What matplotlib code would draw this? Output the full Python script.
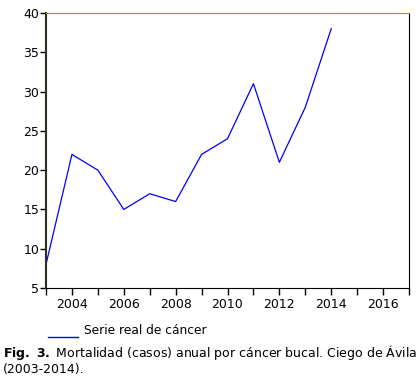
import matplotlib.pyplot as plt
import numpy as np

# Annual mortality from oral cancer, Ciego de Avila
years = [2003, 2004, 2005, 2006, 2007, 2008, 2009, 2010, 2011, 2012, 2013, 2014]
cases = [8, 22, 20, 15, 17, 16, 22, 24, 31, 21, 28, 38]
x_labels = [2004, 2006, 2008, 2010, 2012, 2014, 2016]
y_ticks = [5, 10, 15, 20, 25, 30, 35, 40]

fig = plt.figure(figsize=(4.2, 3.81), dpi=100)
ax = fig.add_axes([46 / 420, 1 - 288 / 381, 363 / 420, 275 / 381])

ax.plot(years, cases, color='#0000ff', linewidth=0.9)

ax.set_xlim(2003, 2017)
ax.set_ylim(5, 40)
ax.set_xticks(x_labels)
ax.set_xticks(range(2003, 2018, 2), minor=True)
ax.set_yticks(y_ticks)
ax.tick_params(axis='both', which='both', direction='out', labelsize=9, width=1)
ax.tick_params(axis='x', which='both', length=5, pad=2)
ax.tick_params(axis='y', length=4, pad=1)

ax.spines['top'].set_color('#9a9a20')
ax.spines['left'].set_color('#302c20')
ax.spines['left'].set_linewidth(1.5)
ax.spines['bottom'].set_color('black')
ax.spines['right'].set_color('black')
ax.spines['right'].set_linewidth(0.8)

# legend line and caption
fig.add_artist(plt.Line2D([48 / 420, 78 / 420], [1 - 337 / 381, 1 - 337 / 381], color='#0000ff', linewidth=1))
fig.text(84 / 420, 1 - 331 / 381, 'Serie real de cáncer', fontsize=8.8, va='center')
fig.text(3 / 420, 1 - 353 / 381, r'$\bf{Fig.\ 3.}$ Mortalidad (casos) anual por cáncer bucal. Ciego de Ávila',
         fontsize=9, va='center')
fig.text(3 / 420, 1 - 370 / 381, '(2003-2014).', fontsize=9, va='center')

fig.savefig('out.png', dpi=100)
